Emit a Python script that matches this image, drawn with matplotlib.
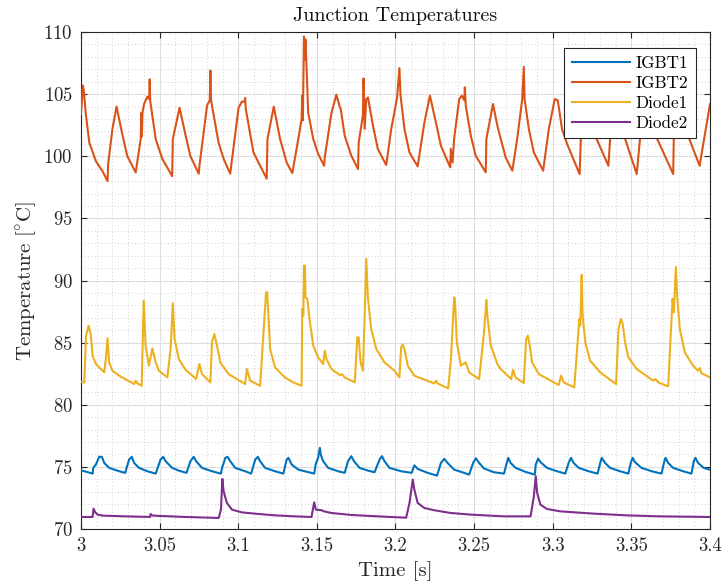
import numpy as np
import matplotlib
matplotlib.use("Agg")
import matplotlib.pyplot as plt
from matplotlib.ticker import MultipleLocator, FuncFormatter

# (time [s], temperature [degC])
igbt1_pts = [
    (3.0000, 74.73), (3.0074, 74.46), (3.0078, 74.92), (3.0095, 75.19), (3.0116, 75.81),
    (3.0133, 75.81), (3.0148, 75.32), (3.0179, 74.92), (3.0243, 74.65), (3.0281, 74.52),
    (3.0306, 75.59), (3.0323, 75.81), (3.0338, 75.32), (3.0369, 74.92), (3.0422, 74.65),
    (3.0475, 74.46), (3.0506, 75.59), (3.0523, 75.81), (3.0538, 75.46), (3.0580, 74.92),
    (3.0622, 74.70), (3.0671, 74.52), (3.0696, 75.46), (3.0717, 75.81), (3.0732, 75.46),
    (3.0770, 74.92), (3.0833, 74.65), (3.0890, 74.46), (3.0897, 74.92), (3.0918, 75.73),
    (3.0932, 75.81), (3.0949, 75.46), (3.0981, 74.92), (3.1044, 74.65), (3.1082, 74.46),
    (3.1108, 75.59), (3.1125, 75.81), (3.1139, 75.46), (3.1171, 74.92), (3.1234, 74.65),
    (3.1287, 74.46), (3.1308, 75.59), (3.1319, 75.73), (3.1340, 75.19), (3.1382, 74.78),
    (3.1483, 74.46), (3.1492, 75.19), (3.1508, 75.73), (3.1519, 76.53), (3.1525, 75.99),
    (3.1540, 75.46), (3.1572, 74.92), (3.1635, 74.65), (3.1677, 74.52), (3.1698, 75.46),
    (3.1719, 75.86), (3.1736, 75.46), (3.1772, 74.92), (3.1825, 74.70), (3.1867, 74.57),
    (3.1899, 75.59), (3.1914, 75.86), (3.1930, 75.46), (3.1962, 74.92), (3.2036, 74.65),
    (3.2103, 74.52), (3.2120, 75.13), (3.2141, 74.84), (3.2205, 74.52), (3.2264, 74.30),
    (3.2289, 75.32), (3.2310, 75.65), (3.2331, 75.32), (3.2373, 74.78), (3.2437, 74.52),
    (3.2468, 74.38), (3.2494, 75.32), (3.2511, 75.70), (3.2532, 75.32), (3.2563, 74.87),
    (3.2627, 74.57), (3.2690, 74.46), (3.2705, 75.19), (3.2717, 75.73), (3.2732, 75.32),
    (3.2764, 74.92), (3.2827, 74.60), (3.2886, 74.38), (3.2892, 75.19), (3.2907, 75.67),
    (3.2922, 75.38), (3.2964, 74.92), (3.3027, 74.65), (3.3080, 74.46), (3.3101, 75.32),
    (3.3116, 75.73), (3.3133, 75.32), (3.3165, 74.92), (3.3228, 74.65), (3.3285, 74.46),
    (3.3302, 75.32), (3.3312, 75.73), (3.3333, 75.32), (3.3365, 74.92), (3.3428, 74.65),
    (3.3481, 74.46), (3.3496, 75.32), (3.3508, 75.73), (3.3523, 75.38), (3.3565, 74.92),
    (3.3629, 74.65), (3.3692, 74.46), (3.3707, 75.32), (3.3717, 75.73), (3.3734, 75.32),
    (3.3766, 74.92), (3.3829, 74.65), (3.3882, 74.46), (3.3897, 75.46), (3.3907, 75.73),
    (3.3924, 75.32), (3.3960, 74.92), (3.4000, 74.78),
]

igbt2_pts = [
    (3.0000, 103.4), (3.0012, 105.7), (3.0018, 105.3), (3.0030, 103.5), (3.0053, 101.1),
    (3.0095, 99.6), (3.0137, 98.8), (3.0169, 98.0), (3.0173, 99.4), (3.0200, 102.2),
    (3.0226, 104.0), (3.0264, 101.7), (3.0295, 100.0), (3.0348, 98.7), (3.0380, 101.4),
    (3.0384, 103.5), (3.0387, 101.6), (3.0391, 103.5), (3.0401, 104.2), (3.0422, 104.8),
    (3.0434, 104.6), (3.0437, 106.2), (3.0440, 104.5), (3.0475, 101.4), (3.0517, 99.8),
    (3.0580, 98.4), (3.0584, 101.4), (3.0627, 103.9), (3.0665, 101.7), (3.0696, 100.0),
    (3.0749, 98.6), (3.0753, 99.2), (3.0802, 104.1), (3.0819, 104.5), (3.0823, 106.9),
    (3.0827, 104.5), (3.0875, 101.1), (3.0907, 99.8), (3.0949, 98.6), (3.1002, 103.9),
    (3.1023, 104.4), (3.1040, 104.4), (3.1044, 104.7), (3.1048, 103.8), (3.1097, 100.3),
    (3.1181, 98.2), (3.1186, 101.4), (3.1226, 104.0), (3.1266, 101.4), (3.1308, 99.5),
    (3.1344, 98.65), (3.1382, 101.4), (3.1403, 103.0), (3.1407, 104.9), (3.1411, 102.9),
    (3.1418, 109.65), (3.1423, 107.8), (3.1428, 109.4), (3.1434, 107.3), (3.1445, 103.5),
    (3.1477, 101.4), (3.1508, 100.2), (3.1546, 99.24), (3.1550, 99.9), (3.1593, 103.5),
    (3.1624, 104.96), (3.1645, 104.0), (3.1652, 103.8), (3.1677, 101.66), (3.1719, 100.05),
    (3.1762, 98.97), (3.1766, 101.1), (3.1793, 103.3), (3.1797, 106.27), (3.1804, 102.2),
    (3.1814, 104.6), (3.1825, 104.74), (3.1857, 102.46), (3.1888, 100.58), (3.1941, 99.3),
    (3.1973, 102.2), (3.2010, 104.7), (3.2025, 107.1), (3.2032, 104.9), (3.2057, 102.2),
    (3.2089, 100.3), (3.2141, 99.19), (3.2184, 102.73), (3.2219, 104.88), (3.2257, 102.73),
    (3.2289, 100.85), (3.2348, 99.11), (3.2352, 100.6), (3.2363, 99.5), (3.2373, 101.4),
    (3.2405, 104.6), (3.2422, 104.88), (3.2438, 104.5), (3.2441, 105.55), (3.2447, 104.07),
    (3.2479, 101.66), (3.2510, 100.05), (3.2574, 98.71), (3.2578, 101.39), (3.2620, 104.21),
    (3.2648, 102.46), (3.2669, 101.4), (3.2701, 99.9), (3.2743, 98.84), (3.2774, 101.4),
    (3.2806, 104.6), (3.2816, 107.2), (3.2821, 104.6), (3.2848, 102.2), (3.2880, 100.3),
    (3.2939, 98.84), (3.2975, 102.2), (3.3013, 104.61), (3.3032, 104.5), (3.3059, 102.2),
    (3.3091, 101.0), (3.3171, 98.57), (3.3179, 101.5), (3.3225, 104.5), (3.3265, 101.8),
    (3.3354, 99.24), (3.3365, 101.4), (3.3410, 104.6), (3.3450, 101.8), (3.3534, 98.57),
    (3.3555, 101.4), (3.3610, 104.5), (3.3650, 101.8), (3.3766, 98.57), (3.3770, 101.5),
    (3.3815, 104.5), (3.3850, 102.0), (3.3934, 99.24), (3.4000, 104.2),
]

diode1_pts = [
    (3.0000, 81.85), (3.0021, 81.8), (3.0032, 85.56), (3.0049, 86.37), (3.0063, 85.56),
    (3.0074, 83.95), (3.0095, 83.28), (3.0148, 82.61), (3.0158, 83.68), (3.0169, 85.35),
    (3.0179, 83.41), (3.0200, 82.74), (3.0243, 82.34), (3.0338, 81.67), (3.0348, 81.94),
    (3.0359, 81.72), (3.0386, 81.53), (3.0399, 88.39), (3.0411, 84.76), (3.0432, 83.15),
    (3.0454, 84.54), (3.0475, 83.41), (3.0496, 82.74), (3.0549, 82.2), (3.0570, 84.49),
    (3.0584, 88.17), (3.0595, 85.3), (3.0622, 83.68), (3.0665, 82.82), (3.0732, 82.07),
    (3.0753, 83.28), (3.0770, 82.47), (3.0823, 81.8), (3.0833, 85.03), (3.0848, 85.7),
    (3.0865, 84.76), (3.0886, 83.41), (3.0939, 82.47), (3.1044, 81.67), (3.1055, 82.88),
    (3.1076, 81.94), (3.1139, 81.53), (3.1177, 89.06), (3.1184, 89.06), (3.1203, 84.49),
    (3.1234, 83.01), (3.1297, 82.2), (3.1350, 81.8), (3.1403, 81.53), (3.1407, 87.72),
    (3.1414, 87.18), (3.1418, 91.21), (3.1424, 91.21), (3.1428, 88.66), (3.1439, 88.52),
    (3.1456, 86.64), (3.1477, 84.76), (3.1508, 83.82), (3.1540, 83.28), (3.1551, 84.35),
    (3.1561, 83.68), (3.1593, 82.88), (3.1646, 82.39), (3.1660, 82.47), (3.1677, 82.2),
    (3.1741, 81.8), (3.1757, 85.43), (3.1766, 85.43), (3.1778, 83.41), (3.1793, 82.74),
    (3.1804, 87.18), (3.1814, 91.75), (3.1825, 88.52), (3.1846, 86.1), (3.1878, 84.49),
    (3.1930, 83.41), (3.1994, 82.74), (3.2025, 82.2), (3.2036, 84.62), (3.2046, 84.84),
    (3.2057, 84.49), (3.2078, 83.15), (3.2120, 82.34), (3.2247, 81.72), (3.2257, 81.94),
    (3.2268, 81.72), (3.2335, 81.32), (3.2352, 83.55), (3.2373, 88.66), (3.2378, 88.52),
    (3.2390, 85.03), (3.2416, 83.15), (3.2447, 83.41), (3.2468, 82.61), (3.2532, 82.07),
    (3.2563, 85.83), (3.2578, 88.44), (3.2584, 87.18), (3.2606, 84.76), (3.2648, 83.28),
    (3.2669, 82.88), (3.2736, 82.07), (3.2747, 82.82), (3.2764, 82.2), (3.2816, 81.75),
    (3.2831, 85.3), (3.2842, 85.56), (3.2854, 84.76), (3.2869, 83.41), (3.2911, 82.47),
    (3.3038, 81.59), (3.3053, 82.34), (3.3070, 81.8), (3.3137, 81.4), (3.3169, 86.91),
    (3.3175, 86.37), (3.3184, 90.46), (3.3190, 87.18), (3.3207, 85.03), (3.3238, 83.55),
    (3.3302, 82.61), (3.3403, 81.67), (3.3418, 86.1), (3.3433, 86.91), (3.3445, 86.51),
    (3.3460, 85.03), (3.3481, 83.82), (3.3534, 82.88), (3.3639, 81.94), (3.3654, 82.07),
    (3.3671, 81.8), (3.3734, 81.48), (3.3762, 88.52), (3.3770, 87.45), (3.3783, 91.08),
    (3.3791, 88.79), (3.3808, 86.1), (3.3840, 84.22), (3.3892, 83.15), (3.3924, 82.74),
    (3.3935, 82.96), (3.3945, 82.55), (3.4000, 82.2),
]

diode2_pts = [
    (3.0000, 70.97), (3.0074, 70.97), (3.0080, 71.64), (3.0091, 71.34), (3.0105, 71.16),
    (3.0137, 71.08), (3.0285, 71.02), (3.0439, 70.97), (3.0443, 71.21), (3.0454, 71.08),
    (3.0665, 70.97), (3.0876, 70.89), (3.0890, 71.56), (3.0899, 74.03), (3.0907, 73.04),
    (3.0928, 72.10), (3.0960, 71.56), (3.1023, 71.34), (3.1129, 71.21), (3.1234, 71.10),
    (3.1361, 71.02), (3.1466, 70.97), (3.1483, 72.15), (3.1494, 71.56), (3.1530, 71.51),
    (3.1546, 71.42), (3.1593, 71.29), (3.1719, 71.13), (3.1888, 71.02), (3.2068, 70.91),
    (3.2089, 72.10), (3.2110, 73.98), (3.2120, 73.17), (3.2141, 72.10), (3.2184, 71.69),
    (3.2247, 71.51), (3.2352, 71.29), (3.2479, 71.16), (3.2690, 71.02), (3.2859, 71.02),
    (3.2880, 72.63), (3.2892, 74.25), (3.2901, 72.90), (3.2922, 71.96), (3.2964, 71.61),
    (3.3049, 71.42), (3.3259, 71.24), (3.3470, 71.10), (3.3681, 71.02), (3.4000, 70.97),
]

series_names = ["IGBT1", "IGBT2", "Diode1", "Diode2"]
series_colors = ["#0072BD", "#D95319", "#EDB120", "#7E2F8E"]
x_ticks = [3.0, 3.05, 3.1, 3.15, 3.2, 3.25, 3.3, 3.35, 3.4]
y_ticks = [70, 75, 80, 85, 90, 95, 100, 105, 110]

plt.rcParams['font.family'] = ['cmr10', 'DejaVu Serif']
plt.rcParams['mathtext.fontset'] = 'cm'
plt.rcParams['axes.formatter.use_mathtext'] = True

fig = plt.figure(figsize=(7.23, 5.88), dpi=100)
ax = fig.add_axes([0.112, 0.1003, 0.870, 0.8452])

for pts, name, col in zip([igbt1_pts, igbt2_pts, diode1_pts, diode2_pts],
                          series_names, series_colors):
    arr = np.array(pts)
    ax.plot(arr[:, 0], arr[:, 1], color=col, lw=1.5, label=name, zorder=3)

ax.set_xlim(3.0, 3.4)
ax.set_ylim(70, 110)
ax.set_xticks(x_ticks)
ax.set_yticks(y_ticks)
ax.xaxis.set_major_formatter(FuncFormatter(lambda v, p: f"{v:g}"))
ax.xaxis.set_minor_locator(MultipleLocator(0.01))
ax.yaxis.set_minor_locator(MultipleLocator(1))

ax.grid(which='major', color='#dedede', lw=0.8, ls='-', zorder=0)
ax.grid(which='minor', color='#c4c4c4', lw=0.6, ls=(0, (1, 3)), zorder=0)
ax.set_axisbelow(True)

ax.tick_params(which='major', direction='in', length=4.5, width=0.8,
               top=True, right=True, labelsize=13.5, colors='#262626', pad=6)
ax.tick_params(which='minor', length=0)
for s in ax.spines.values():
    s.set_color('#262626')
    s.set_linewidth(0.8)

ax.set_title("Junction Temperatures", fontsize=14.5, color='#111111', pad=8)
ax.set_xlabel("Time [s]", fontsize=15, color='#262626', labelpad=4)
ax.set_ylabel(r"$\mathrm{Temperature\ [^{\circ}C]}$", fontsize=15, color='#262626',
              labelpad=4)

leg = ax.legend(loc='upper right', bbox_to_anchor=(0.977, 0.968), borderaxespad=0,
                fontsize=12.3, handlelength=3.4, labelspacing=0.27, fancybox=False,
                framealpha=1, edgecolor='#262626', borderpad=0.45, handletextpad=0.3)
leg.get_frame().set_linewidth(0.8)

fig.savefig("out.png", dpi=100)
